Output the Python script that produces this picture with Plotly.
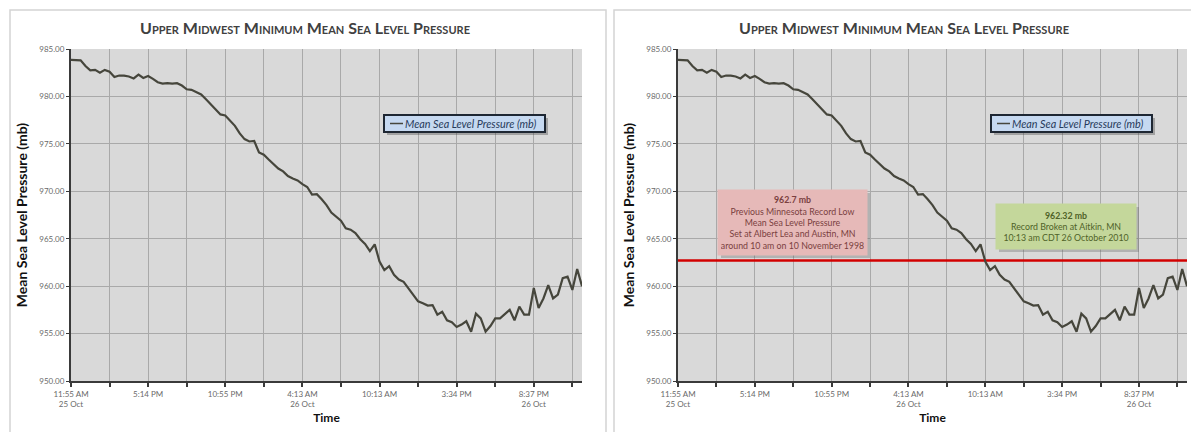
import plotly.graph_objects as go

# ---------------- data ----------------
time_labels = ["11:55 AM<br>25 Oct", "", "5:14 PM", "", "10:55 PM", "",
               "4:13 AM<br>26 Oct", "", "10:13 AM", "", "3:34 PM", "",
               "8:37 PM<br>26 Oct", ""]
obs_per_grid = 8

pressure_mb = [
    983.85, 983.85, 983.80, 983.20, 982.75, 982.80, 982.50, 982.80, 982.60, 982.05,
    982.20, 982.20, 982.10, 981.90, 982.30, 981.95, 982.15, 981.85, 981.50, 981.35,
    981.40, 981.35, 981.40, 981.15, 980.75, 980.70, 980.45, 980.20, 979.70, 979.20,
    978.65, 978.10, 978.00, 977.50, 976.90, 976.10, 975.50, 975.25, 975.30, 974.10,
    973.85, 973.35, 972.90, 972.40, 972.10, 971.60, 971.35, 971.15, 970.75, 970.45,
    969.65, 969.70, 969.15, 968.55, 967.75, 967.30, 966.90, 966.10, 965.95, 965.60,
    964.95, 964.45, 963.70, 964.40, 962.60, 961.70, 962.10, 961.20, 960.70, 960.45,
    959.80, 959.10, 958.40, 958.20, 957.95, 958.00, 957.00, 957.30, 956.40, 956.20,
    955.70, 955.95, 956.30, 955.20, 957.10, 956.60, 955.20, 955.80, 956.60, 956.60,
    957.00, 957.50, 956.40, 957.85, 957.00, 957.00, 959.80, 957.70, 958.70, 960.10,
    958.70, 959.10, 960.85, 961.00, 959.60, 961.80, 960.00,
]
y_ticks = [950, 955, 960, 965, 970, 975, 980, 985]

prev_record_mb = 962.7
new_record_mb = 962.32
series_name = "Mean Sea Level Pressure (mb)"
chart_title = "Upper Midwest Minimum Mean Sea Level Pressure"

# ---------------- layout helpers ----------------
W, H = 1199, 432
FONT = "Lato"


def px(x):
    return x / W


def py(y):
    return 1 - y / H


idx = list(range(len(pressure_mb)))
tickvals = [i * obs_per_grid for i in range(len(time_labels))]
xmax = len(pressure_mb) - 1
LINE_COLOR = "#46463c"

PLOT_TOP, PLOT_BOT = 41, 373

fig = go.Figure()

for n, suffix in enumerate(["", "2"]):
    fig.add_trace(go.Scatter(
        x=idx, y=pressure_mb, mode="lines", name=series_name,
        line=dict(color=LINE_COLOR, width=2.2),
        xaxis="x" + suffix, yaxis="y" + suffix, showlegend=False,
    ))

# (panel left, panel right, plot left, plot right)
panels = [(2, 598, 63, 574), (606, 1192, 670, 1179)]

axis_common_x = dict(
    range=[0, xmax], tickvals=tickvals, ticktext=time_labels,
    showgrid=True, gridcolor="#a9a9a9", gridwidth=1,
    showline=True, linecolor="#3a3a3a", linewidth=2,
    ticks="outside", ticklen=4, tickcolor="#3a3a3a", tickwidth=1.5,
    tickfont=dict(family=FONT, size=8, color="#6a6a6a"),
    zeroline=False, fixedrange=True, tickangle=0, automargin=False,
    title=dict(text="<b>Time</b>", font=dict(family=FONT, size=12, color="#111"), standoff=6),
)
axis_common_y = dict(
    range=[950, 985], tickvals=y_ticks, tickformat=".2f",
    showgrid=True, gridcolor="#a9a9a9", gridwidth=1,
    showline=True, linecolor="#3a3a3a", linewidth=2,
    ticks="outside", ticklen=3, tickcolor="#3a3a3a",
    tickfont=dict(family=FONT, size=8, color="#6a6a6a"),
    zeroline=False, fixedrange=True, automargin=False,
    title=dict(text="<b>" + series_name + "</b>",
               font=dict(family=FONT, size=14, color="#111"), standoff=8),
)

shapes = []
annotations = []
for n, (bx0, bx1, ax0, ax1) in enumerate(panels):
    suffix = "" if n == 0 else "2"
    xa = dict(axis_common_x, domain=[px(ax0), px(ax1)], anchor="y" + suffix)
    ya = dict(axis_common_y, domain=[py(PLOT_BOT), py(PLOT_TOP)], anchor="x" + suffix)
    fig.update_layout(**{"xaxis" + suffix: xa, "yaxis" + suffix: ya})
    # panel border
    shapes.append(dict(type="rect", xref="paper", yref="paper",
                       x0=px(bx0), x1=px(bx1), y0=-0.05, y1=py(2),
                       line=dict(color="#d4d4d4", width=1.5), layer="below"))
    # title
    annotations.append(dict(
        text="<b>" + chart_title + "</b>", xref="paper", yref="paper",
        x=px((bx0 + bx1) / 2 - 3), y=py(19), xanchor="center", yanchor="middle",
        showarrow=False,
        font=dict(family=FONT, size=16, color="#404040", variant="small-caps"),
    ))
    # legend box (shadow, box, line sample, label)
    lx0, lx1, ly0, ly1 = ax0 + 313, ax0 + 474, 107, 124
    shapes.append(dict(type="rect", xref="paper", yref="paper",
                       x0=px(lx0 + 3), x1=px(lx1 + 3), y0=py(ly1 + 3), y1=py(ly0 + 3),
                       fillcolor="rgba(60,60,60,0.35)", line=dict(width=0), layer="above"))
    shapes.append(dict(type="rect", xref="paper", yref="paper",
                       x0=px(lx0), x1=px(lx1), y0=py(ly1), y1=py(ly0),
                       fillcolor="#c6d9f1", line=dict(color="#1e2733", width=2), layer="above"))
    shapes.append(dict(type="line", xref="paper", yref="paper",
                       x0=px(lx0 + 6), x1=px(lx0 + 19), y0=py((ly0 + ly1) / 2), y1=py((ly0 + ly1) / 2),
                       line=dict(color=LINE_COLOR, width=1.5), layer="above"))
    annotations.append(dict(
        text=series_name, xref="paper", yref="paper",
        x=px(lx0 + 19), y=py((ly0 + ly1) / 2), xanchor="left", yanchor="middle",
        showarrow=False,
        font=dict(family=FONT, size=10.8, color="#263a5a", style="italic"),
    ))

# red line for the previous record on the right chart
shapes.append(dict(type="line", xref="x2", yref="y2", x0=0, x1=xmax,
                   y0=prev_record_mb, y1=prev_record_mb,
                   line=dict(color="#d20000", width=2.6), layer="between"))

# annotation boxes on the right chart (with soft shadows)
boxes = [
    dict(cx=784.5, cy=214.5, w=149, h=65, bg="#e6b9b8", fc="#7a3f3f",
         text=f"<b>{prev_record_mb} mb</b><br>Previous Minnesota Record Low<br>Mean Sea Level Pressure<br>"
              "Set at Albert Lea and Austin, MN<br>around 10 am on 10 November 1998"),
    dict(cx=1058, cy=218.5, w=140, h=45, bg="#c4d79b", fc="#4f6228",
         text=f"<b>{new_record_mb} mb</b><br>Record Broken at Aitkin, MN<br>10:13 am CDT 26 October 2010"),
]
for b in boxes:
    shapes.append(dict(type="rect", xref="paper", yref="paper",
                       x0=px(b["cx"] - b["w"] / 2 + 3), x1=px(b["cx"] + b["w"] / 2 + 3),
                       y0=py(b["cy"] + b["h"] / 2 + 3), y1=py(b["cy"] - b["h"] / 2 + 3),
                       fillcolor="rgba(90,90,90,0.3)", line=dict(width=0), layer="above"))
    annotations.append(dict(
        text=b["text"], xref="paper", yref="paper", x=px(b["cx"]), y=py(b["cy"]),
        xanchor="center", yanchor="middle", showarrow=False,
        width=b["w"] - 6, height=b["h"] - 6, borderpad=3, bgcolor=b["bg"],
        font=dict(family=FONT, size=8.8, color=b["fc"]),
    ))

fig.update_layout(
    width=W, height=H, margin=dict(l=0, r=0, t=0, b=0),
    paper_bgcolor="white", plot_bgcolor="#d9d9d9",
    shapes=shapes, annotations=annotations, showlegend=False,
)

fig.write_html("out.html")
